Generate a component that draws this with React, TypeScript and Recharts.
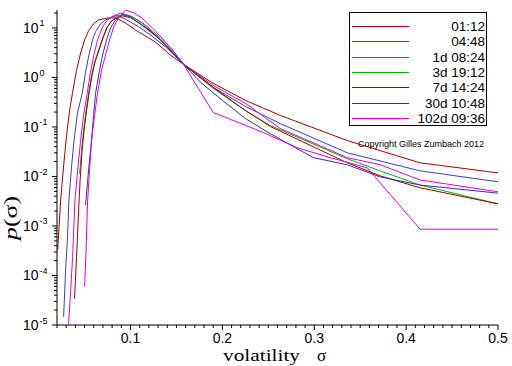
import React from 'react';
import { LineChart, Line, XAxis, YAxis, Legend, Label } from 'recharts';

// aggregation horizons and their colours
const SERIES_NAMES = ['01:12', '04:48', '1d 08:24', '3d 19:12', '7d 14:24', '30d 10:48', '102d 09:36'];
const SERIES_COLORS = ['#a80000', '#3c3cc8', '#e000e0', '#00b400', '#a00000', '#3030b0', '#e000e0'];

// volatility sigma / density p(sigma), one pair of arrays per horizon
const sigma0112 = [0.0207, 0.0239, 0.0272, 0.0304, 0.0337, 0.037, 0.0413, 0.0457, 0.05, 0.0543, 0.0598, 0.0652, 0.0761, 0.0837, 0.0946, 0.1054, 0.127, 0.1435, 0.1576, 0.19, 0.225, 0.263, 0.336, 0.415, 0.5];
const p0112 = [3.2e-4, 0.0032, 0.0164, 0.067, 0.215, 0.5, 1.4, 3.1, 5.7, 8.7, 12.1, 14.5, 16.0, 16.0, 12.6, 9.1, 5.2, 2.82, 1.85, 0.76, 0.344, 0.171, 0.053, 0.0189, 0.0118];

const sigma0448 = [0.0272, 0.0293, 0.0315, 0.0329, 0.0359, 0.0391, 0.0424, 0.0475, 0.0511, 0.0547, 0.0587, 0.062, 0.0674, 0.0728, 0.0815, 0.0859, 0.0946, 0.1087, 0.1217, 0.138, 0.1576, 0.19, 0.225, 0.263, 0.336, 0.415, 0.5];
const p0448 = [1.47e-5, 1.2e-4, 6.2e-4, 0.0032, 0.0164, 0.067, 0.196, 0.48, 1.28, 2.82, 5.7, 8.4, 12.1, 14.5, 17.0, 17.8, 15.0, 10.6, 7.2, 4.17, 1.85, 0.63, 0.26, 0.117, 0.03, 0.013, 0.0078];

const sigma1d = [0.0326, 0.0348, 0.037, 0.0395, 0.0424, 0.0457, 0.0489, 0.0529, 0.0565, 0.0601, 0.0641, 0.0692, 0.0739, 0.0801, 0.0891, 0.1, 0.1127, 0.127, 0.138, 0.1576, 0.19, 0.225, 0.263, 0.336, 0.372, 0.415, 0.5];
const p1d = [1.02e-5, 4.7e-5, 2.4e-4, 0.0032, 0.013, 0.053, 0.171, 0.48, 1.28, 2.82, 5.7, 10.0, 13.9, 17.0, 19.9, 17.5, 12.5, 7.2, 4.5, 1.85, 0.69, 0.3, 0.093, 0.024, 0.0172, 0.0085, 0.0049];

const sigma3d = [0.0446, 0.0467, 0.0489, 0.0516, 0.0549, 0.0576, 0.0609, 0.0652, 0.0696, 0.0745, 0.0793, 0.0855, 0.0924, 0.1022, 0.1163, 0.1326, 0.1457, 0.1576, 0.19, 0.225, 0.2522, 0.3359, 0.3717, 0.4152, 0.5];
const p3d = [0.0113, 0.033, 0.0845, 0.215, 0.55, 1.11, 2.04, 3.57, 6.27, 10.5, 13.9, 17.0, 19.0, 16.7, 11.5, 6.27, 3.57, 1.85, 0.6, 0.215, 0.107, 0.0228, 0.013, 0.0067, 0.0028];

const sigma7d = [0.0391, 0.0413, 0.0435, 0.0451, 0.0473, 0.0495, 0.0522, 0.0554, 0.0582, 0.0614, 0.0658, 0.0701, 0.075, 0.0799, 0.0859, 0.0913, 0.1, 0.1109, 0.1272, 0.1435, 0.1576, 0.19, 0.225, 0.2522, 0.3359, 0.3717, 0.4152, 0.5];
const p7d = [3.4e-5, 2.4e-4, 0.002, 0.0081, 0.033, 0.0845, 0.215, 0.55, 1.11, 2.04, 3.57, 6.27, 10.5, 13.9, 16.3, 17.5, 16.0, 12.1, 7.2, 3.57, 1.85, 0.63, 0.215, 0.102, 0.0189, 0.0103, 0.0059, 0.0028];

const sigma30d = [0.0511, 0.0533, 0.0554, 0.0576, 0.0598, 0.062, 0.0663, 0.0696, 0.0739, 0.0783, 0.0837, 0.091, 0.1, 0.1163, 0.1326, 0.1457, 0.1576, 0.1761, 0.2, 0.225, 0.2522, 0.2989, 0.3359, 0.3717, 0.4152, 0.5];
const p30d = [0.00265, 0.0081, 0.0208, 0.053, 0.171, 0.48, 1.4, 2.82, 5.7, 10.0, 14.5, 18.4, 16.7, 10.0, 5.7, 3.25, 1.85, 0.8, 0.344, 0.148, 0.073, 0.024, 0.0172, 0.0098, 0.0067, 0.0046];

const sigma102d = [0.05, 0.0516, 0.0533, 0.0554, 0.0576, 0.0609, 0.0641, 0.0685, 0.0728, 0.0772, 0.0818, 0.087, 0.0946, 0.1033, 0.1127, 0.1239, 0.1345, 0.1457, 0.1576, 0.1739, 0.19, 0.2065, 0.2446, 0.2815, 0.3174, 0.3576, 0.4152, 0.5];
const p102d = [6.0e-5, 3.1e-4, 0.0032, 0.013, 0.053, 0.171, 0.48, 1.4, 2.82, 5.7, 10.5, 16.0, 23.0, 20.2, 15.7, 10.0, 6.2, 3.57, 1.85, 0.6, 0.196, 0.148, 0.077, 0.038, 0.024, 0.015, 8.6e-4, 8.6e-4];

// axis ticks
const X_MAJOR = [0.1, 0.2, 0.3, 0.4, 0.5];
const Y_DECADES = [-5, -4, -3, -2, -1, 0, 1];

const SIGMAS = [sigma0112, sigma0448, sigma1d, sigma3d, sigma7d, sigma30d, sigma102d];
const PS = [p0112, p0448, p1d, p3d, p7d, p30d, p102d];

const seriesData = SIGMAS.map((xs, i) => xs.map((s, j) => ({ s, p: PS[i][j] })));

const xTicks: number[] = [];
for (let k = 2; k <= 50; k++) xTicks.push(k / 100);

const yTicks: number[] = [];
Y_DECADES.forEach(e => {
  for (let k = 1; k <= 9; k++) {
    const v = k * Math.pow(10, e);
    if (v <= 23) yTicks.push(v);
  }
});

const sans = '"Liberation Sans", Arial, sans-serif';
const serif = '"Liberation Serif", "DejaVu Serif", serif';

const XTick = (props: any) => {
  const { x, y, payload } = props;
  const v = payload.value;
  const major = X_MAJOR.some(m => Math.abs(m - v) < 1e-6);
  return (
    <g>
      <line x1={x} x2={x} y1={y} y2={y + (major ? 5 : 3)} stroke="#000" />
      {major && (
        <text x={x} y={y + 18} textAnchor="middle" fontFamily={sans} fontSize={14} fontWeight="normal" fill="#000">
          {String(v)}
        </text>
      )}
    </g>
  );
};

const YTick = (props: any) => {
  const { x, y, payload } = props;
  const lg = Math.log10(payload.value);
  const major = Math.abs(lg - Math.round(lg)) < 1e-6;
  const e = Math.round(lg);
  return (
    <g>
      <line x1={x - (major ? 5 : 3)} x2={x} y1={y} y2={y} stroke="#000" />
      {major && (
        <text x={x - 34} y={y + 5} fontFamily={sans} fontSize={14} fontWeight="normal" fill="#000">
          10
          <tspan dx={1} dy={-6.5} fontSize={9}>{e < 0 ? '-' + Math.abs(e) : String(e)}</tspan>
        </text>
      )}
    </g>
  );
};

const LegendBox = () => (
  <div style={{ position: 'relative', width: 138, height: 140 }}>
    <div
      style={{
        position: 'absolute', left: 0, top: 0, width: 138, height: 114,
        border: '1px solid #000', background: '#fff', boxSizing: 'border-box',
      }}
    >
      {SERIES_NAMES.map((name, i) => (
        <div key={name} style={{ position: 'absolute', left: 0, top: 14 + i * 15.3 - 8, width: 136, height: 16 }}>
          <div style={{ position: 'absolute', left: 2, top: 7, width: 57, height: 1, background: SERIES_COLORS[i] }} />
          <div
            style={{
              position: 'absolute', right: 1, top: 0, lineHeight: '16px',
              fontFamily: sans, fontSize: 13.5, color: '#000', whiteSpace: 'nowrap',
            }}
          >
            {name}
          </div>
        </div>
      ))}
    </div>
    <div
      style={{
        position: 'absolute', left: 9, top: 127, lineHeight: '10px',
        fontFamily: sans, fontSize: 9, color: '#000', whiteSpace: 'nowrap',
      }}
    >
      Copyright Gilles Zumbach 2012
    </div>
  </div>
);

export default function App() {
  return (
    <div style={{ position: 'absolute', left: 0, top: 0, width: 512, height: 366, background: '#fff' }}>
      <LineChart width={512} height={366} margin={{ top: 10, right: 14, bottom: 0, left: 0 }}>
        <XAxis
          dataKey="s"
          type="number"
          domain={[0.02, 0.5]}
          allowDataOverflow
          ticks={xTicks}
          interval={0}
          tick={XTick}
          tickLine={false}
          tickSize={0}
          tickMargin={0}
          height={41}
          axisLine={{ stroke: '#000' }}
        >
          <Label
            content={() => (
              <g>
                <text x={223} y={361} fontFamily={serif} fontSize={16} textLength={77} lengthAdjust="spacingAndGlyphs" fill="#000">
                  volatility
                </text>
                <text x={317} y={361} fontFamily={serif} fontSize={17} fill="#000">
                  σ
                </text>
              </g>
            )}
          />
        </XAxis>
        <YAxis
          type="number"
          scale="log"
          domain={[1e-5, 23]}
          allowDataOverflow
          ticks={yTicks}
          interval={0}
          tick={YTick}
          tickLine={false}
          tickSize={0}
          tickMargin={0}
          width={57}
          axisLine={{ stroke: '#000' }}
        >
          <Label
            content={() => (
              <text
                x={17}
                y={218}
                transform="rotate(-90, 17, 218)"
                textAnchor="middle"
                fontFamily={serif}
                fontSize={18}
                textLength={44}
                lengthAdjust="spacingAndGlyphs"
                fill="#000"
              >
                <tspan fontStyle="italic">p</tspan>(σ)
              </text>
            )}
          />
        </YAxis>
        <Legend
          layout="horizontal"
          align="center"
          verticalAlign="middle"
          width={138}
          height={140}
          wrapperStyle={{ position: 'absolute', left: 349, top: 12, width: 138, height: 140, margin: 0 }}
          content={() => <LegendBox />}
        />
        {seriesData.map((d, i) => (
          <Line
            key={SERIES_NAMES[i]}
            data={d}
            dataKey="p"
            name={SERIES_NAMES[i]}
            type="linear"
            stroke={SERIES_COLORS[i]}
            strokeWidth={1}
            dot={false}
            activeDot={false}
            isAnimationActive={false}
          />
        ))}
      </LineChart>
    </div>
  );
}
